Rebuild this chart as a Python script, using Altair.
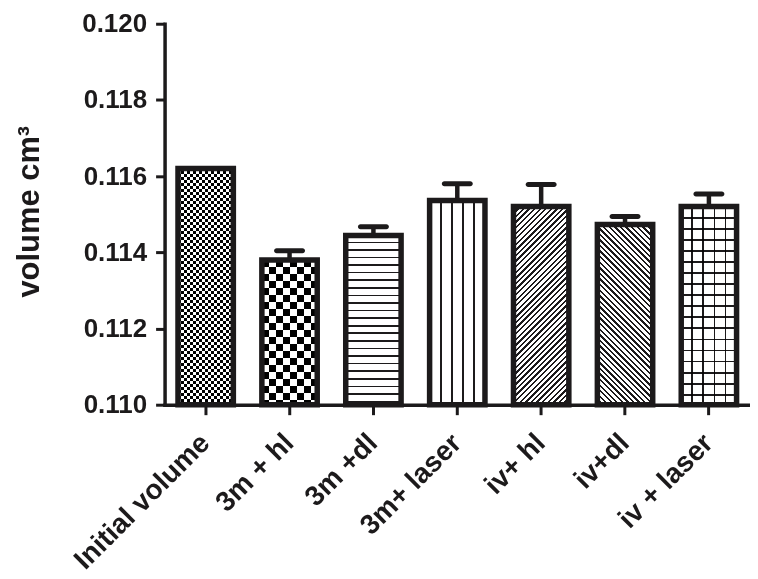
import altair as alt
import pandas as pd

# ---------------- data ----------------
categories = ["Initial volume", "3m + hl", "3m +dl", "3m+ laser", "iv+ hl", "iv+dl", "iv + laser"]
means = [0.1162, 0.1138, 0.11444, 0.11536, 0.1152, 0.11473, 0.1152]
errors = [0.0, 0.00024, 0.00023, 0.00044, 0.00058, 0.00021, 0.00033]
y_ticks = [0.110, 0.112, 0.114, 0.116, 0.118, 0.120]

Y_MIN, Y_MAX = 0.110, 0.120
PLOT_W, PLOT_H = 587, 382
PAD_IN, PAD_OUT = 0.34, 0.16

INK = "#1c1a1b"
BLACK = "#000000"
WHITE = "#ffffff"
FONT = "Liberation Sans"

df = pd.DataFrame({"cat": categories, "mean": means, "err": errors})
df["top"] = df["mean"] + df["err"]
df["base"] = Y_MIN

# ---------------- hatch fills as hard-stop gradients ----------------
step = PLOT_W / (len(categories) - PAD_IN + 2 * PAD_OUT)
BW = step * (1 - PAD_IN)


def bar_h(v):
    return (v - Y_MIN) / (Y_MAX - Y_MIN) * PLOT_H


def stripe_grad(kind, W, H, period, thick, start=0.0, ink=INK, paper=WHITE):
    if kind == "h":
        x1, y1, x2, y2 = 0, 0, 0, 1
        smax = H
        to_t = lambda s: s / H
    elif kind == "v":
        x1, y1, x2, y2 = 0, 0, 1, 0
        smax = W
        to_t = lambda s: s / W
    elif kind == "/":
        x1, y1, x2, y2 = 0, 0, 1, H / W
        smax = W + H
        to_t = lambda s: W * s / (W * W + H * H)
    else:  # "\"
        x1, y1, x2, y2 = 1, 0, 0, H / W
        smax = W + H
        to_t = lambda s: W * s / (W * W + H * H)
    stops = [(0.0, paper)]
    s = start
    while s < smax:
        a = max(s, 0.0)
        b = min(s + thick, smax)
        if b > a:
            stops += [(to_t(a), paper), (to_t(a), ink), (to_t(b), ink), (to_t(b), paper)]
        s += period
    stops.append((to_t(smax), paper))
    return alt.LinearGradient(
        gradient="linear",
        stops=[alt.GradientStop(offset=round(o, 6), color=c) for o, c in stops],
        x1=x1, y1=y1, x2=x2, y2=y2,
    )


def fills_for(i):
    W, H = BW, bar_h(means[i])
    if i == 0:   # fine checker
        a = 3.0
        return [(stripe_grad("v", W, H, 2 * a, a, 0, BLACK, WHITE), None),
                (stripe_grad("h", W, H, 2 * a, a, 0, BLACK, WHITE), "difference")]
    if i == 1:   # coarse checker
        a = 7.0
        return [(stripe_grad("v", W, H, 2 * a, a, 0, BLACK, WHITE), None),
                (stripe_grad("h", W, H, 2 * a, a, 0, BLACK, WHITE), "difference")]
    if i == 2:   # horizontal lines
        return [(stripe_grad("h", W, H, 7.6, 1.6, 6.0), None)]
    if i == 3:   # vertical lines
        return [(stripe_grad("v", W, H, W / 5, 1.8, W / 5 - 0.9), None)]
    if i == 4:   # "/" diagonals
        return [(stripe_grad("/", W, H, 5.6, 2.4, 0.0), None)]
    if i == 5:   # "\" diagonals
        return [(stripe_grad("\\", W, H, 5.6, 2.4, 0.0), None)]
    # grid
    p = W / 5
    return [(stripe_grad("v", W, H, p, 1.8, p - 0.9, INK, WHITE), None),
            (stripe_grad("h", W, H, p, 1.8, p - 0.9, INK, WHITE), "multiply")]


# ---------------- chart ----------------
x_enc = alt.X(
    "cat:N", sort=categories, title="",
    scale=alt.Scale(paddingInner=PAD_IN, paddingOuter=PAD_OUT),
    axis=alt.Axis(
        labelAngle=315, labelAlign="right", labelBaseline="middle",
        labelPadding=24, labelFont=FONT, labelFontWeight="bold", labelFontSize=28,
        labelColor=INK, labelLimit=500, labelOverlap=False,
        tickSize=10, tickWidth=3, tickColor=INK,
        domainColor=INK, domainWidth=3.5, domainCap="square",
    ),
)
y_scale = alt.Scale(domain=[Y_MIN, Y_MAX], zero=False, nice=False)
y_axis = alt.Axis(
    values=y_ticks, format=".3f", grid=False,
    labelFont=FONT, labelFontWeight="bold", labelFontSize=26, labelColor=INK,
    labelPadding=9, tickSize=9, tickWidth=3, tickColor=INK,
    domainColor=INK, domainWidth=3.5, domainCap="square",
    title="volume cm³", titleFont=FONT, titleFontWeight="bold", titleFontSize=31,
    titleColor=INK, titleAngle=270, titleAlign="center", titleBaseline="alphabetic",
    titleX=-126, titleY=188,
)

base = alt.Chart(df).encode(x=x_enc)

layers = []
for i, name in enumerate(categories):
    for grad, blend in fills_for(i):
        kw = dict(fill=grad, strokeWidth=0)
        if blend:
            kw["blend"] = blend
        layers.append(
            base.transform_filter(alt.datum.cat == name)
            .mark_bar(**kw)
            .encode(y=alt.Y("mean:Q", scale=y_scale, axis=y_axis), y2="base:Q")
        )

outline = base.mark_bar(filled=False, stroke=INK, strokeWidth=5.5, strokeJoin="miter").encode(
    y=alt.Y("mean:Q", scale=y_scale, axis=y_axis), y2="base:Q"
)
stems = base.transform_filter(alt.datum.err > 0).mark_rule(color=INK, strokeWidth=4.5).encode(
    y=alt.Y("mean:Q", scale=y_scale, axis=y_axis), y2="top:Q"
)
caps = base.transform_filter(alt.datum.err > 0).mark_tick(
    color=INK, size=31, thickness=5, cornerRadius=2.5, opacity=1
).encode(y=alt.Y("top:Q", scale=y_scale, axis=y_axis))

chart = (
    alt.layer(*layers, outline, stems, caps)
    .properties(
        width=PLOT_W, height=PLOT_H,
        autosize=alt.AutoSizeParams(type="none"),
        padding={"left": 157, "top": 15, "right": 0, "bottom": 174},
        background="white",
    )
    .configure_view(strokeWidth=0)
)

chart.save("out.html", embed_options={"renderer": "svg", "actions": False})
